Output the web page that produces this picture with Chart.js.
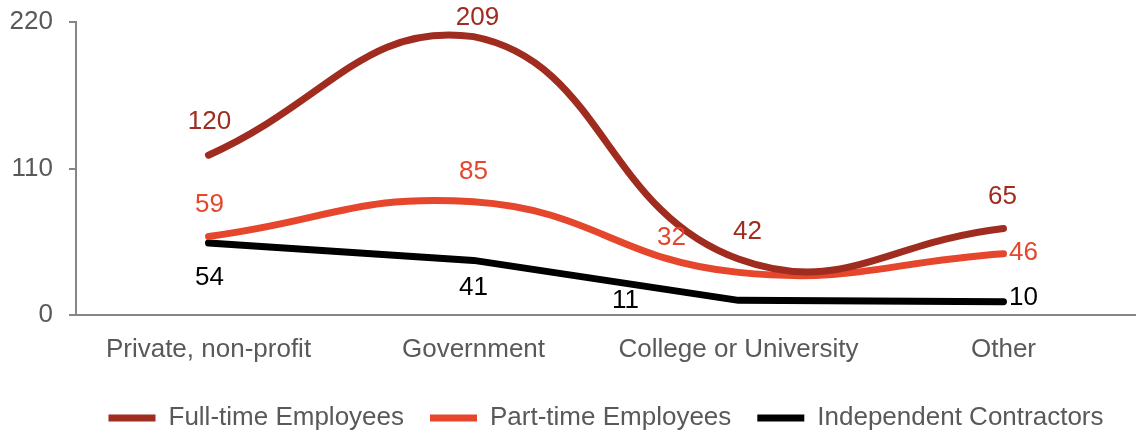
<!DOCTYPE html>
<html>
<head>
<meta charset="utf-8">
<script src="https://cdn.jsdelivr.net/npm/chart.js@4"></script>
<style>
  html, body { margin: 0; padding: 0; background: #fff; }
  #wrap { width: 1136px; height: 435px; }
</style>
</head>
<body>
<div id="wrap"><canvas id="chart" width="1136" height="435"></canvas></div>
<script>
const categories = ["Private, non-profit", "Government", "College or University", "Other"];
const fullTime = [120, 209, 42, 65];
const partTime = [59, 85, 32, 46];
const contractors = [54, 41, 11, 10];
const yTicks = [0, 110, 220];

const colors = {
  full: "#A02B1F",
  part: "#E5462C",
  contr: "#000000",
  axis: "#868686",
  text: "#595959"
};

const font = { family: "'Liberation Sans', Arial, sans-serif", size: 26 };

// where each value label sits relative to its point [dx, dy]
const labelOffsets = [
  [[1, -33], [4, -19], [9, -27], [-1, -32]],
  [[1, -32], [0, -30], [-67, -35], [20, -1]],
  [[1, 35], [0, 27], [-113, 0], [20, -4]]
];

const valueLabels = {
  id: "valueLabels",
  afterDatasetsDraw(chart) {
    const ctx = chart.ctx;
    ctx.save();
    ctx.font = `${font.size}px ${font.family}`;
    ctx.textAlign = "center";
    ctx.textBaseline = "middle";
    chart.data.datasets.forEach((ds, i) => {
      ctx.fillStyle = ds.borderColor;
      chart.getDatasetMeta(i).data.forEach((pt, j) => {
        const [dx, dy] = labelOffsets[i][j];
        ctx.fillText(ds.data[j], pt.x + dx, pt.y + dy);
      });
    });
    ctx.restore();
  }
};

function makeLine(label, data, color, tension) {
  return {
    label,
    data,
    borderColor: color,
    backgroundColor: color,
    borderWidth: 7,
    tension,
    pointRadius: 0,
    pointHoverRadius: 0,
    borderCapStyle: "round",
    borderJoinStyle: "round",
    fill: false
  };
}

new Chart(document.getElementById("chart"), {
  type: "line",
  data: {
    labels: categories,
    datasets: [
      makeLine("Full-time Employees", fullTime, colors.full, 0.45),
      makeLine("Part-time Employees", partTime, colors.part, 0.45),
      makeLine("Independent Contractors", contractors, colors.contr, 0)
    ]
  },
  options: {
    responsive: false,
    animation: false,
    layout: { padding: { top: 22, bottom: -6, left: 0, right: 0 } },
    plugins: {
      legend: {
        position: "bottom",
        fullSize: false,
        labels: {
          usePointStyle: true,
          pointStyle: "line",
          pointStyleWidth: 47,
          font,
          color: colors.text,
          padding: 26
        }
      },
      tooltip: { enabled: false }
    },
    scales: {
      x: {
        offset: true,
        grid: { display: false },
        border: { display: true, color: colors.axis, width: 2 },
        ticks: { font, color: colors.text, padding: 11, autoSkip: false, maxRotation: 0 },
        afterFit: s => { s.height = 64; }
      },
      y: {
        min: 0,
        max: 220,
        afterBuildTicks: s => { s.ticks = yTicks.map(v => ({ value: v })); },
        afterFit: s => { s.width = 76; s.paddingTop = 0; s.paddingBottom = 0; },
        ticks: { font, color: colors.text, padding: 16 },
        grid: { drawOnChartArea: false, drawTicks: true, tickLength: 7, color: colors.axis, lineWidth: 2 },
        border: { color: colors.axis, width: 2 }
      }
    }
  },
  plugins: [valueLabels]
});
</script>
</body>
</html>
